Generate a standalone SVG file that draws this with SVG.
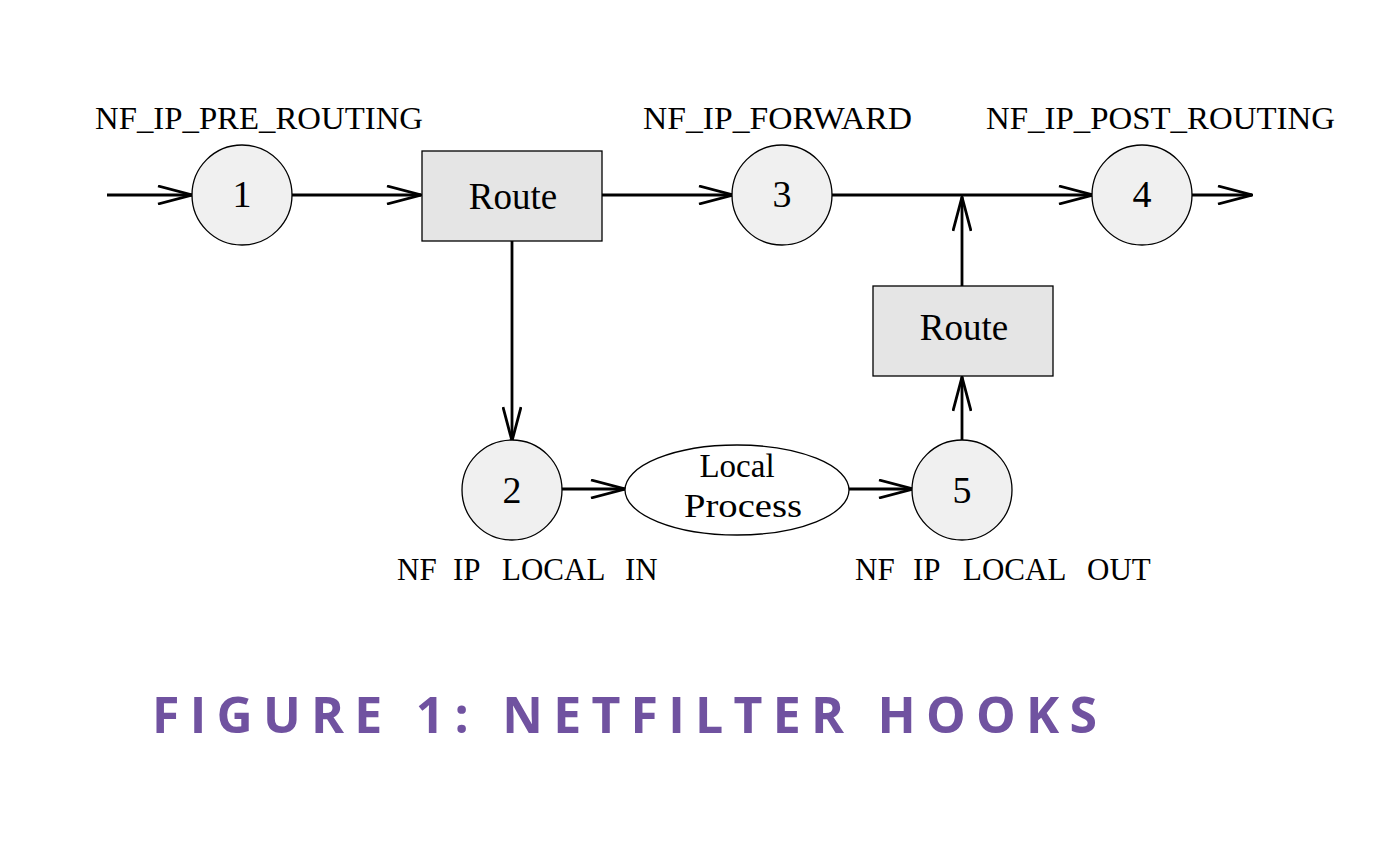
<svg xmlns="http://www.w3.org/2000/svg" width="1392" height="857" viewBox="0 0 1392 857">
<defs>
<style>
.hook{fill:#f0f0f0;stroke:#000;stroke-width:1.3}
.box{fill:#e5e5e5;stroke:#000;stroke-width:1.3}
.proc{fill:#fff;stroke:#000;stroke-width:1.3}
.t{font-family:"Liberation Serif","Times New Roman",serif;fill:#000}
.lbl{font-size:31px}
.num{font-size:38px;text-anchor:middle}
.rt{font-size:37px;text-anchor:middle}
.edge{stroke:#000;stroke-width:2.8;fill:none}
.cap{font-family:"Open Sans","Liberation Sans",sans-serif;font-weight:bold;font-size:50px;fill:#7052a0}
</style>
<marker id="arr" viewBox="0 0 36 20" refX="35" refY="10" markerWidth="36" markerHeight="20" markerUnits="userSpaceOnUse" orient="auto">
<path d="M1,1 L35,10 L1,19" fill="none" stroke="#000" stroke-width="2.8"/>
</marker>
</defs>
<rect width="1392" height="857" fill="#fff"/>
<g id="connectors">
<line class="edge" x1="107" y1="195" x2="192" y2="195" marker-end="url(#arr)"/>
<line class="edge" x1="288" y1="195" x2="421" y2="195" marker-end="url(#arr)"/>
<line class="edge" x1="602" y1="195" x2="733" y2="195" marker-end="url(#arr)"/>
<line class="edge" x1="829" y1="195" x2="1093" y2="195" marker-end="url(#arr)"/>
<line class="edge" x1="1188" y1="195" x2="1252" y2="195" marker-end="url(#arr)"/>
<line class="edge" x1="962" y1="286" x2="962" y2="197" marker-end="url(#arr)"/>
<line class="edge" x1="512" y1="241" x2="512" y2="441" marker-end="url(#arr)"/>
<line class="edge" x1="558" y1="489" x2="625" y2="489" marker-end="url(#arr)"/>
<line class="edge" x1="849" y1="489" x2="913" y2="489" marker-end="url(#arr)"/>
<line class="edge" x1="962" y1="443" x2="962" y2="377" marker-end="url(#arr)"/>
</g>
<g id="hook1">
<circle class="hook" cx="242" cy="195" r="50"/>
<text class="t num" x="242" y="207">1</text>
<text class="t lbl" x="95" y="129" textLength="328" lengthAdjust="spacingAndGlyphs">NF_IP_PRE_ROUTING</text>
</g>
<g id="route1">
<rect class="box" x="422" y="151" width="180" height="90"/>
<text class="t rt" x="513" y="209">Route</text>
</g>
<g id="hook3">
<circle class="hook" cx="782" cy="195" r="50"/>
<text class="t num" x="782" y="207">3</text>
<text class="t lbl" x="643" y="129" textLength="269" lengthAdjust="spacingAndGlyphs">NF_IP_FORWARD</text>
</g>
<g id="hook4">
<circle class="hook" cx="1142" cy="195" r="50"/>
<text class="t num" x="1142" y="207">4</text>
<text class="t lbl" x="986" y="129" textLength="349" lengthAdjust="spacingAndGlyphs">NF_IP_POST_ROUTING</text>
</g>
<g id="route2">
<rect class="box" x="873" y="286" width="180" height="90"/>
<text class="t rt" x="964" y="340">Route</text>
</g>
<g id="hook2">
<circle class="hook" cx="512" cy="490" r="50"/>
<text class="t num" x="512" y="503">2</text>
<text class="t lbl" y="580"><tspan x="397">NF</tspan> <tspan x="453">IP</tspan> <tspan x="502">LOCAL</tspan> <tspan x="625">IN</tspan></text>
</g>
<g id="local-process">
<ellipse class="proc" cx="737" cy="490" rx="112" ry="45"/>
<text class="t rt" style="font-size:33px" x="737" y="477">Local</text>
<text class="t rt" style="font-size:33px" x="743" y="517" textLength="118" lengthAdjust="spacingAndGlyphs">Process</text>
</g>
<g id="hook5">
<circle class="hook" cx="962" cy="490" r="50"/>
<text class="t num" x="962" y="503">5</text>
<text class="t lbl" y="580"><tspan x="855">NF</tspan> <tspan x="913">IP</tspan> <tspan x="963">LOCAL</tspan> <tspan x="1087">OUT</tspan></text>
</g>
<text class="cap" x="152" y="733" textLength="945" lengthAdjust="spacing">FIGURE 1: NETFILTER HOOKS</text>
</svg>
